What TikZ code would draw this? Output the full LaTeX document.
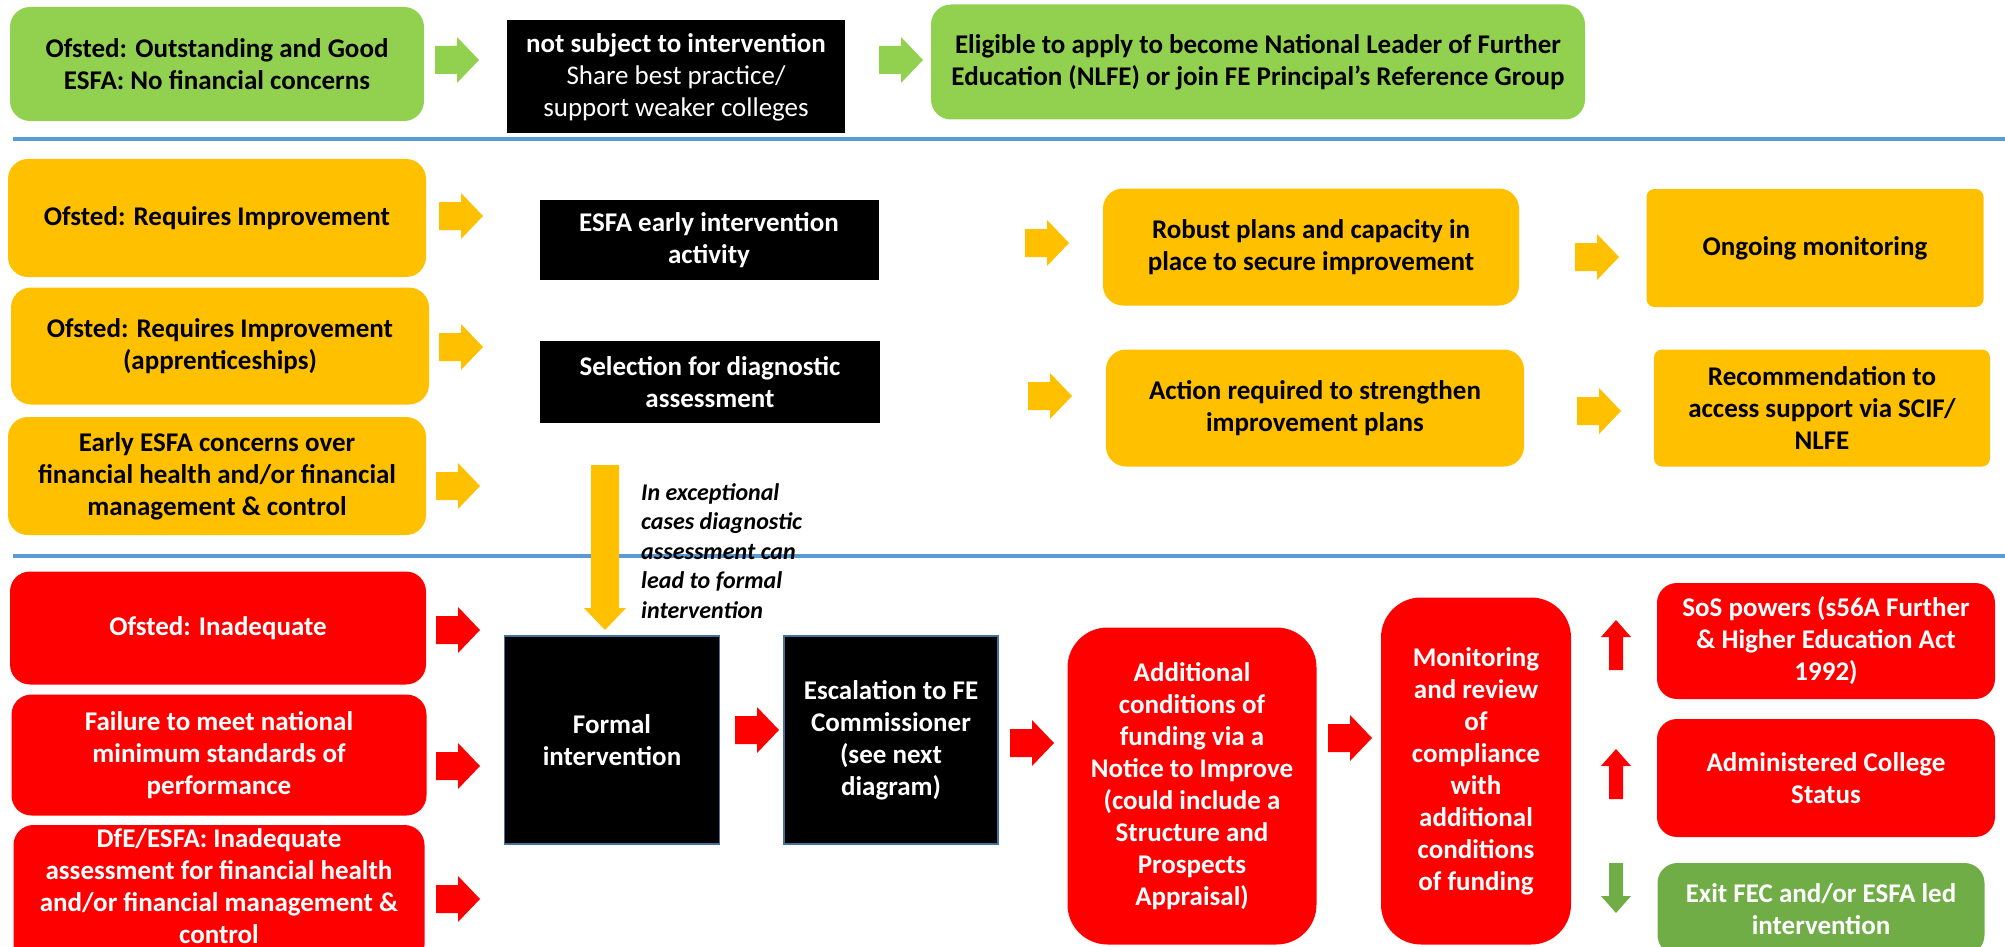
\documentclass[tikz,border=0pt]{standalone}
\usepackage{fontspec}
\setmainfont{Carlito}
\usepackage{xcolor}
\definecolor{okgreen}{RGB}{146,208,80}
\definecolor{amber}{RGB}{255,192,0}
\definecolor{alarm}{RGB}{255,0,0}
\definecolor{exitgreen}{RGB}{112,173,71}
\definecolor{sepblue}{RGB}{91,155,213}
\definecolor{edgeblue}{RGB}{65,113,156}
\tikzset{
	box/.style={align=center, inner sep=0pt, font=\fontsize{27}{32}\selectfont\bfseries},
	gbox/.style={box, fill=okgreen, rounded corners=20pt},
	ybox/.style={box, fill=amber, rounded corners=20pt},
	rbox/.style={box, fill=alarm, text=white, rounded corners=20pt},
	kbox/.style={box, fill=black, text=white},
	sepline/.style={sepblue, line width=4pt},
	pics/rarrow/.style={code={\fill[#1] (-22,-14) -- (0,-14) -- (0,-23) -- (22,0) -- (0,23) -- (0,14) -- (-22,14) -- cycle;}},
	pics/uarrow/.style={code={\fill[#1] (-7,25) -- (-7,-8) -- (-15,-8) -- (0,-25) -- (15,-8) -- (7,-8) -- (7,25) -- cycle;}},
}
\begin{document}
\begin{tikzpicture}[x=1pt, y=-1pt]
				\useasboundingbox (0,0) rectangle (2005,947);
				\clip (0,0) rectangle (2005,947);
		
				\draw[sepline] (13,139) -- (2005,139);
				\draw[sepline] (13,556) -- (2005,556);
		
				\node[gbox, minimum width=414pt, minimum height=114pt] (good) at (217,64) {Ofsted: Outstanding and Good\\ESFA: No financial concerns};
				\node[kbox, minimum width=338pt, minimum height=113pt] (nosub) at (676,77) {not subject to intervention\\\mdseries Share best practice/\\\mdseries support weaker colleges};
				\node[gbox, minimum width=654pt, minimum height=115pt] (nlfe) at (1258,62) {Eligible to apply to become National Leader of Further\\Education (NLFE) or join FE Principal’s Reference Group};
				\pic at (457,60) {rarrow=okgreen};
				\pic at (901,60) {rarrow=okgreen};
		
				\node[ybox, minimum width=418pt, minimum height=118pt] (ri) at (217,218) {Ofsted: Requires Improvement};
				\node[ybox, minimum width=418pt, minimum height=117pt] (riapp) at (220,346) {Ofsted: Requires Improvement\\(apprenticeships)};
				\node[ybox, minimum width=418pt, minimum height=118pt] (early) at (217,476) {Early ESFA concerns over\\financial health and/or financial\\management \& control};
				\pic at (461,216) {rarrow=amber};
				\pic at (461,347) {rarrow=amber};
				\pic at (458,486) {rarrow=amber};
				\node[kbox, minimum width=339pt, minimum height=80pt] (esfa) at (709,240) {ESFA early intervention\\activity};
				\node[kbox, minimum width=340pt, minimum height=82pt] (select) at (710,382) {Selection for diagnostic\\assessment};
				\pic at (1047,243) {rarrow=amber};
				\pic at (1597,257) {rarrow=amber};
				\pic at (1050,396) {rarrow=amber};
				\pic at (1599,411) {rarrow=amber};
				\node[ybox, minimum width=416pt, minimum height=117pt] (robust) at (1311,247) {Robust plans and capacity in\\place to secure improvement};
				\node[ybox, rounded corners=8pt, minimum width=337pt, minimum height=118pt] (ongoing) at (1815,248) {Ongoing monitoring};
				\node[ybox, minimum width=418pt, minimum height=117pt] (action) at (1315,408) {Action required to strengthen\\improvement plans};
				\node[ybox, rounded corners=8pt, minimum width=336pt, minimum height=117pt] (recomm) at (1822,408) {Recommendation to\\access support via SCIF/\\NLFE};
		
				\fill[amber] (591,465) -- (619,465) -- (619,608) -- (626,608) -- (605,630) -- (584,608) -- (591,608) -- cycle;
				\node[anchor=west, align=left, inner sep=0pt, font=\fontsize{24}{29.5}\selectfont\bfseries\itshape] (except) at (641,551) {In exceptional\\cases diagnostic\\assessment can\\lead to formal\\intervention};
		
				\node[rbox, minimum width=416pt, minimum height=113pt] (inadeq) at (218,628) {Ofsted: Inadequate};
				\node[rbox, minimum width=415pt, minimum height=121pt] (fail) at (219,755) {Failure to meet national\\minimum standards of\\performance};
				\node[rbox, minimum width=411pt, minimum height=140pt] (dfe) at (219,895) {};
				\node[box, text=white] (dfetext) at (219,886) {DfE/ESFA: Inadequate\\assessment for financial health\\and/or financial management \&\\control};
				\pic at (458,630) {rarrow=alarm};
				\pic at (458,766) {rarrow=alarm};
				\pic at (458,899) {rarrow=alarm};
				\node[kbox, draw=edgeblue, line width=1.5pt, minimum width=215pt, minimum height=208pt] (formal) at (612,740) {Formal\\intervention};
				\node[kbox, draw=edgeblue, line width=1.5pt, minimum width=214pt, minimum height=208pt] (escal) at (891,740) {Escalation to FE\\Commissioner\\(see next\\diagram)};
				\pic at (757,730) {rarrow=alarm};
				\pic at (1032,743) {rarrow=alarm};
				\node[rbox, rounded corners=40pt, minimum width=249pt, minimum height=317pt] (notice) at (1192,786) {Additional\\conditions of\\funding via a\\Notice to Improve\\(could include a\\Structure and\\Prospects\\Appraisal)};
				\pic at (1350,738) {rarrow=alarm};
				\node[rbox, rounded corners=40pt, minimum width=190pt, minimum height=347pt] (monitor) at (1476,771) {Monitoring\\and review\\of\\compliance\\with\\additional\\conditions\\of funding};
				\pic at (1616,645) {uarrow=alarm};
				\pic at (1616,774) {uarrow=alarm};
				\pic[rotate=180] at (1616,888) {uarrow=exitgreen};
				\node[rbox, minimum width=338pt, minimum height=116pt] (sos) at (1826,641) {SoS powers (s56A Further\\\& Higher Education Act\\1992)};
				\node[rbox, minimum width=338pt, minimum height=118pt] (admin) at (1826,778) {Administered College\\Status};
				\node[box, fill=exitgreen, text=white, rounded corners=20pt, minimum width=327pt, minimum height=92pt] (exit) at (1821,909) {Exit FEC and/or ESFA led\\intervention};
			\end{tikzpicture}
\end{document}
